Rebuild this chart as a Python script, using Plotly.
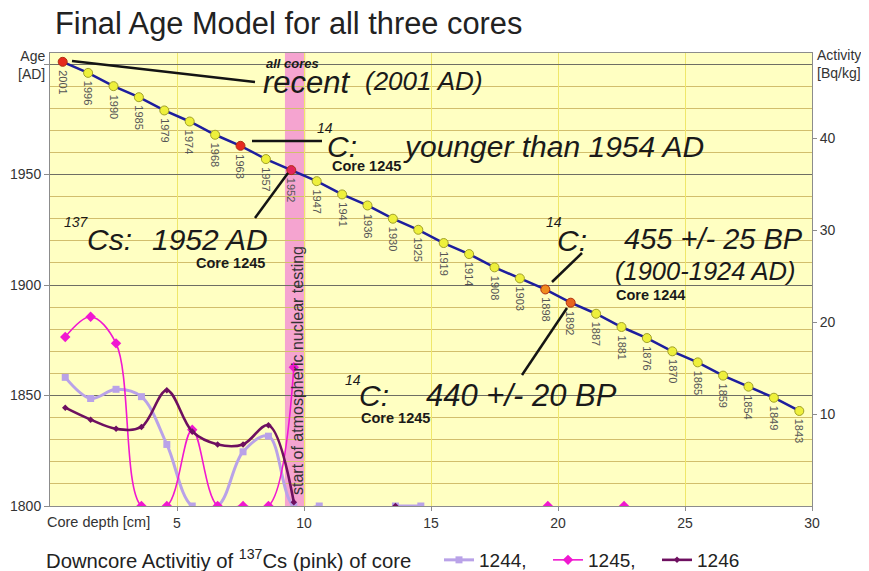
import plotly.graph_objects as go

# ---------------- data ----------------
age_depth = [0.5, 1.5, 2.5, 3.5, 4.5, 5.5, 6.5, 7.5, 8.5, 9.5,
             10.5, 11.5, 12.5, 13.5, 14.5, 15.5, 16.5, 17.5, 18.5, 19.5,
             20.5, 21.5, 22.5, 23.5, 24.5, 25.5, 26.5, 27.5, 28.5, 29.5]
age_year = [2001, 1996, 1990, 1985, 1979, 1974, 1968, 1963, 1957, 1952,
            1947, 1941, 1936, 1930, 1925, 1919, 1914, 1908, 1903, 1898,
            1892, 1887, 1881, 1876, 1870, 1865, 1859, 1854, 1849, 1843]

act_depth = [0.6, 1.6, 2.6, 3.6, 4.6, 5.6, 6.6, 7.6, 8.6, 9.6,
             10.6, 11.6, 12.6, 13.6, 14.6, 15.6, 16.6, 17.6, 18.6, 19.6,
             20.6, 21.6, 22.6]
cs_1244 = [14.0, 11.7, 12.7, 11.9, 6.7, 0, 0, 5.9, 7.6, 0,
           0, None, None, 0, 0, None, None, None, None, None,
           None, None, None]
cs_1245 = [18.4, 20.6, 17.7, 0, 0, 8.3, 0, 0, 0, 15.1,
           None, None, None, None, None, None, None, None, None, 0,
           None, None, 0]
cs_1246 = [10.7, 9.4, 8.4, 8.6, 12.6, 8.1, 6.7, 6.7, 8.8, 0.4,
           None, None, None, 0, None, None, None, None, None, None,
           None, None, None]

core_names = ["1244,", "1245,", "1246"]
left_ticks = [1800, 1850, 1900, 1950, 2000]
left_ticktext = ["1800", "1850", "1900", "1950", " "]
right_ticks = [10, 20, 30, 40]
x_ticks = [5, 10, 15, 20, 25, 30]
testing_band = [9.25, 10.05]

# ---------------- styling ----------------
FONT = "Liberation Sans, Arial, sans-serif"
highlight = {2001: "#E62A1E", 1963: "#E62A1E", 1952: "#E2245C",
             1898: "#F08C1E", 1892: "#E8641E"}
pt_colors = [highlight.get(y, "#EEF03C") for y in age_year]
pt_lines = ["#B03010" if y in highlight else "#A0A028" for y in age_year]

# page pixels (the page body has an 8px margin)
OFF = 8
W, H = 869 - OFF, 571 - OFF
L, R, T, B = 50, 812, 53, 506
def PX(x): return (x - L) / (R - L)
def PY(y): return (B - y) / (B - T)

fig = go.Figure()

fig.add_trace(go.Scatter(x=act_depth, y=cs_1244, yaxis="y2", name=core_names[0],
                         mode="lines+markers", connectgaps=False,
                         line=dict(color="#B9A2E8", width=3, shape="spline", smoothing=1.0),
                         marker=dict(symbol="square", size=7, color="#B9A2E8")))
fig.add_trace(go.Scatter(x=act_depth, y=cs_1245, yaxis="y2", name=core_names[1],
                         mode="lines+markers", connectgaps=False,
                         line=dict(color="#F018D0", width=1.6, shape="spline", smoothing=1.0),
                         marker=dict(symbol="diamond", size=8, color="#F018D0")))
fig.add_trace(go.Scatter(x=act_depth, y=cs_1246, yaxis="y2", name=core_names[2],
                         mode="lines+markers", connectgaps=False,
                         line=dict(color="#6E1060", width=2.6, shape="spline", smoothing=1.0),
                         marker=dict(symbol="diamond", size=5, color="#6E1060")))
fig.add_trace(go.Scatter(x=age_depth, y=age_year, yaxis="y", mode="lines+markers",
                         showlegend=False,
                         line=dict(color="#1E1E9E", width=2.5),
                         marker=dict(size=9, color=pt_colors, line=dict(color=pt_lines, width=1))))

ann = []
for d, yv in zip(age_depth, age_year):
    ann.append(dict(x=d, y=yv, xref="x", yref="y", text=str(yv), showarrow=False,
                    textangle=90, xanchor="center", yanchor="top", yshift=-6,
                    font=dict(size=11, color="#555555", family=FONT)))

def txt(x, y, s, size, anchor="left", **kw):
    return dict(xref="paper", yref="paper", x=PX(x), y=PY(y), text=s, showarrow=False,
                xanchor=anchor, yanchor="middle",
                font=dict(size=size, color=kw.pop("color", "#1a1a1a"), family=FONT), **kw)

ann += [
    txt(54, 24, "Final Age Model for all three cores", 30.8, color="#222222", borderpad=0),
    txt(47, 65, "Age<br>[AD]", 14, anchor="right", align="right", color="#333333"),
    txt(815, 64, "Activity<br>[Bq/kg]", 14, align="left", color="#333333"),
    txt(45, 522, "Core depth [cm]", 14.5, color="#333333"),
    txt(44, 559, "Downcore Activitiy of <sup>137</sup>Cs (pink) of core", 20.3, color="#222222"),
    txt(264, 63, "<b><i>all cores</i></b>", 13),
    txt(261, 82, "<i>recent</i>", 31),
    txt(363, 81, "<i>(2001 AD)</i>", 26),
    txt(315, 128, "<i>14</i>", 14),
    txt(325, 146, "<i>C:</i>", 30),
    txt(401, 146, "<i>younger than 1954 AD</i>", 30),
    txt(330, 166, "<b>Core 1245</b>", 14.5),
    txt(62, 222, "<i>137</i>", 14),
    txt(85, 239, "<i>Cs:</i>", 30),
    txt(150, 239, "<i>1952 AD</i>", 30),
    txt(194, 263, "<b>Core 1245</b>", 14.5),
    txt(544, 222, "<i>14</i>", 14),
    txt(555, 240, "<i>C:</i>", 30),
    txt(622, 239, "<i>455 +/- 25 BP</i>", 29),
    txt(613, 271, "<i>(1900-1924 AD)</i>", 25.5),
    txt(614, 295, "<b>Core 1244</b>", 14.5),
    txt(343, 380, "<i>14</i>", 14),
    txt(357, 395, "<i>C:</i>", 30),
    txt(424, 395, "<i>440 +/- 20 BP</i>", 31),
    txt(359, 418, "<b>Core 1245</b>", 14.5),
    dict(xref="paper", yref="paper", x=PX(297), y=PY(371), text="start of atmospheric nuclear testing",
         showarrow=False, textangle=-90, xanchor="center", yanchor="middle",
         font=dict(size=16, color="#333333", family=FONT)),
]

def seg(x0, y0, x1, y1):
    return dict(type="line", xref="paper", yref="paper", x0=PX(x0), y0=PY(y0), x1=PX(x1), y1=PY(y1),
                line=dict(color="#141414", width=2.5), layer="above")

shapes = [
    dict(type="rect", xref="x", yref="paper", x0=testing_band[0], x1=testing_band[1], y0=0, y1=1,
         fillcolor="#F5A4D0", line=dict(width=0), layer="below"),
    seg(72, 61, 255, 82),
    seg(252, 141, 322, 141),
    seg(255, 218, 288, 173),
    seg(582, 253, 552, 282),
    seg(522, 375, 567, 308),
]

fig.update_layout(
    width=W, height=H,
    margin=dict(l=L - OFF, r=869 - R, t=T - OFF, b=571 - B, autoexpand=False),
    paper_bgcolor="white", plot_bgcolor="#FFFFC2",
    font=dict(family=FONT, color="#333333"),
    annotations=ann, shapes=shapes,
    showlegend=True,
    legend=dict(orientation="h", xref="container", yref="container",
                x=(439 - OFF) / W, y=(571 - 560) / H, xanchor="left", yanchor="middle",
                font=dict(size=19, color="#222222", family=FONT), bgcolor="rgba(0,0,0,0)",
                entrywidth=64, entrywidthmode="pixels", itemwidth=30),
    xaxis=dict(range=[0, 30], tickvals=x_ticks, showgrid=True, gridcolor="#EFE76A", gridwidth=1,
               showline=True, linecolor="#8C8C8C", linewidth=1, mirror=True, automargin=False,
               ticks="outside", ticklen=4, tickcolor="#8C8C8C", zeroline=False,
               tickfont=dict(size=14, color="#333333")),
    yaxis=dict(range=[1800, 2005.0], tickvals=left_ticks, ticktext=left_ticktext,
               showgrid=True, gridcolor="#6E6E64", gridwidth=1.3, automargin=False,
               minor=dict(dtick=10, tick0=1800, showgrid=True, gridcolor="#D2BE6C", gridwidth=1.3),
               showline=True, linecolor="#8C8C8C", linewidth=1,
               ticks="outside", ticklen=5, tickcolor="#8C8C8C", zeroline=False,
               tickfont=dict(size=14, color="#333333")),
    yaxis2=dict(range=[0, 49.3], overlaying="y", side="right", tickvals=right_ticks,
                showgrid=False, showline=True, linecolor="#8C8C8C", linewidth=1, automargin=False,
                ticks="outside", ticklen=4, tickcolor="#8C8C8C", zeroline=False,
                tickfont=dict(size=14, color="#333333")),
)

fig.write_html("out.html")
